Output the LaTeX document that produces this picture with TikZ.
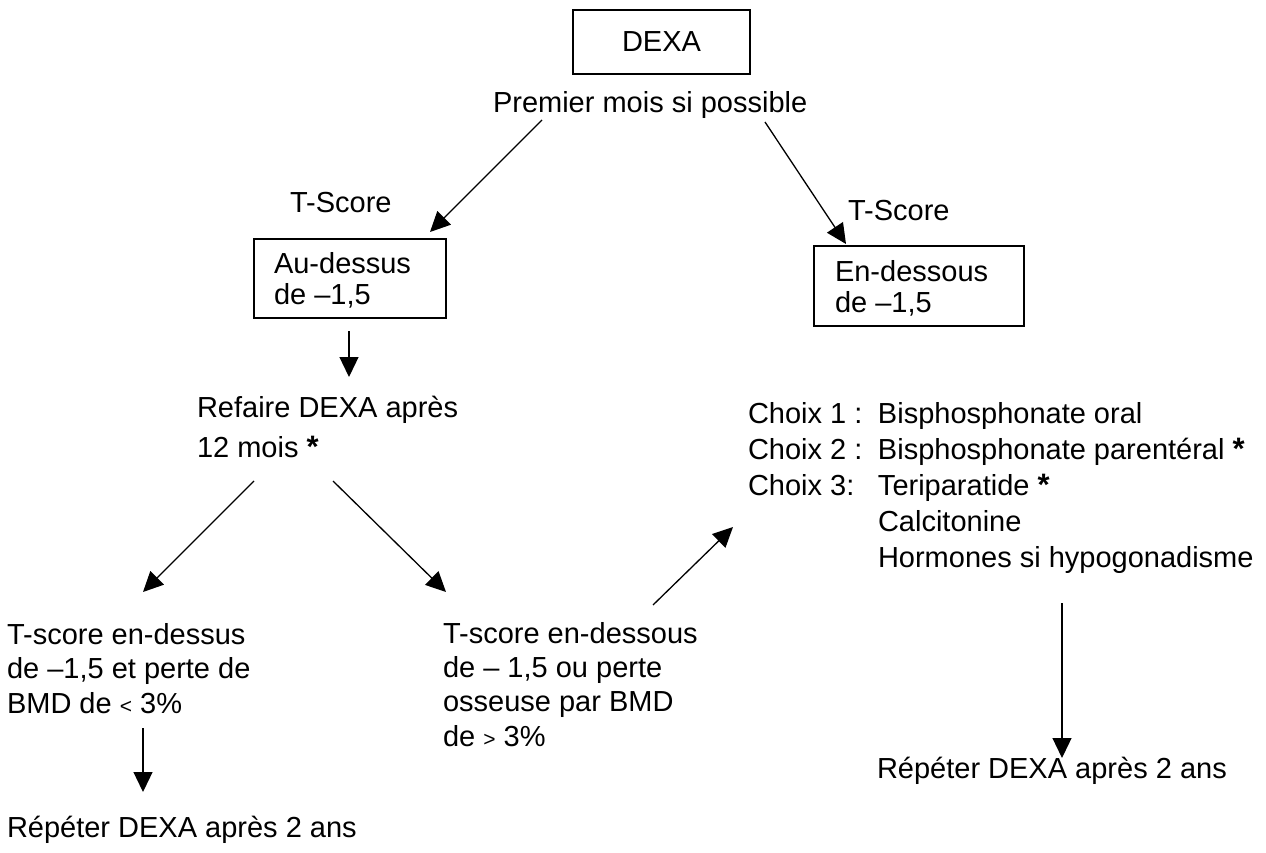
\documentclass[tikz,border=0pt]{standalone}
\usepackage{fontspec}
\setmainfont{Liberation Sans}
\usetikzlibrary{arrows.meta}
\newcommand\astk{\ {\fontsize{31}{31}\selectfont\bfseries *}}
\newcommand\ltsym{{\fontsize{21}{21}\selectfont <}}
\newcommand\gtsym{{\fontsize{21}{21}\selectfont >}}
\begin{document}
\begin{tikzpicture}[x=1pt,y=-1pt,
  every node/.style={inner sep=0pt,outer sep=0pt},
  txt/.style={anchor=base west,font=\fontsize{29}{34.5}\selectfont},
  boxtxt/.style={anchor=base west,font=\fontsize{29}{31.5}\selectfont},
  box/.style={draw,line width=1.8pt},
  arr/.style={line width=1.3pt,-{Triangle[length=20pt,width=19pt]}}]
\useasboundingbox (0,0) rectangle (1266,853);

% top
\node[box,minimum width=177pt,minimum height=64pt,font=\fontsize{29}{34.5}\selectfont] (dexa) at (661.5,42) {DEXA};
\node[txt] (prem) at (493,113) {Premier mois si possible};

% T-score labels
\node[txt] (ts1) at (290,213) {T-Score};
\node[txt] (ts2) at (848,221) {T-Score};

% boxes
\node[box,anchor=north west,minimum width=192pt,minimum height=79pt] (b1) at (254,239) {};
\node[boxtxt] (b1t) at (274,273) {\vtop{\hbox{Au-dessus}\hbox{de –1,5}}};
\node[box,anchor=north west,minimum width=210pt,minimum height=80pt] (b2) at (814,246) {};
\node[boxtxt] (b2t) at (835,281) {\vtop{\hbox{En-dessous}\hbox{de –1,5}}};

% refaire
\node[anchor=base west,font=\fontsize{29}{40}\selectfont] (ref) at (197,417) {\vtop{\hbox{Refaire DEXA après}\hbox{12 mois\astk}}};

% choix
\node[anchor=base west,font=\fontsize{29}{36}\selectfont] (choix) at (748,423) {\vtop{%
  \hbox{\makebox[130pt][l]{Choix 1 :}Bisphosphonate oral}%
  \hbox{\makebox[130pt][l]{Choix 2 :}Bisphosphonate parentéral\astk}%
  \hbox{\makebox[130pt][l]{Choix 3:}Teriparatide\astk}%
  \hbox{\makebox[130pt][l]{}Calcitonine}%
  \hbox{\makebox[130pt][l]{}Hormones si hypogonadisme}}};

% lower left / middle
\node[txt] (lt) at (7,644) {\vtop{\hbox{T-score en-dessus}\hbox{de –1,5 et perte de}\hbox{BMD de \ltsym\ 3\%}}};
\node[anchor=base west,font=\fontsize{29}{34.2}\selectfont] (mt) at (443,643.5) {\vtop{\hbox{T-score en-dessous}\hbox{de – 1,5 ou perte}\hbox{osseuse par BMD}\hbox{de \gtsym\ 3\%}}};

\node[txt] (rep1) at (7,837) {Répéter DEXA après 2 ans};
\node[txt] (rep2) at (877,778) {Répéter DEXA après 2 ans};

% arrow end points
\coordinate (p1) at (542,120);  \coordinate (q1) at (430,232);
\coordinate (p2) at (765,122);  \coordinate (q2) at (846,244);
\coordinate (p3) at (349,331);  \coordinate (q3) at (349,377);
\coordinate (p4) at (254,481);  \coordinate (q4) at (143,592);
\coordinate (p5) at (333,481);  \coordinate (q5) at (446,592);
\coordinate (p6) at (653,605);  \coordinate (q6) at (733,527);
\coordinate (p7) at (143,728);  \coordinate (q7) at (143,792);
\coordinate (p8) at (1062,603); \coordinate (q8) at (1062,758);

\draw[arr] (p1) -- (q1);
\draw[arr] (p2) -- (q2);
\draw[arr] (p3) -- (q3);
\draw[arr] (p4) -- (q4);
\draw[arr] (p5) -- (q5);
\draw[arr] (p6) -- (q6);
\draw[arr] (p7) -- (q7);
\draw[arr] (p8) -- (q8);
\end{tikzpicture}
\end{document}
